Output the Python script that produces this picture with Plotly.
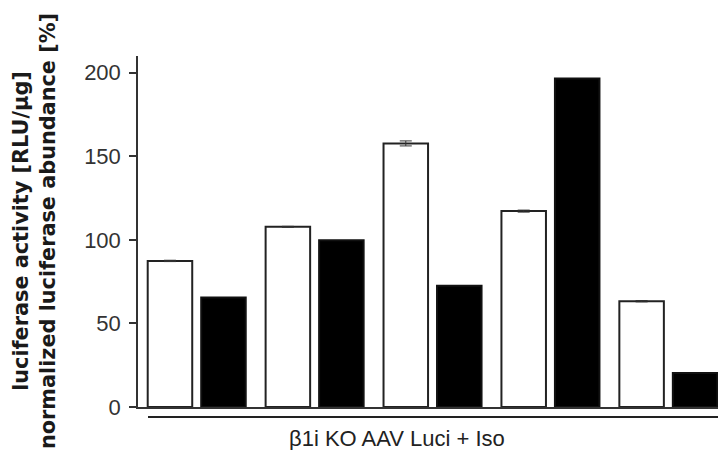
import plotly.graph_objects as go

groups = [0, 1, 2, 3, 4]
white_values = [87.4, 107.8, 157.7, 117.2, 63.3]
white_errors = [0.4, 0.3, 1.5, 0.6, 0.4]
black_values = [65.5, 99.8, 72.5, 196.6, 20.4]
y_ticks = [0, 50, 100, 150, 200]
y_title_lines = ["luciferase activity [RLU/µg]", "normalized luciferase abundance [%]"]
x_title = "β1i KO AAV Luci + Iso"

fig = go.Figure()
fig.add_trace(go.Bar(
    x=groups, y=white_values, name="white",
    marker=dict(color="white", line=dict(color="#222222", width=2)),
    error_y=dict(type="data", array=white_errors, visible=True,
                 color="#333333", thickness=1, width=6),
))
fig.add_trace(go.Bar(
    x=groups, y=black_values, name="black",
    marker=dict(color="black", line=dict(color="#111111", width=2)),
))

fig.update_layout(
    width=718, height=450,
    margin=dict(l=138, r=0, t=56, b=43),
    paper_bgcolor="white", plot_bgcolor="white",
    showlegend=False,
    barmode="group", bargap=0.0925, bargroupgap=0.168,
    font=dict(family="Liberation Sans, Arial", size=22, color="#333333"),
)
fig.update_xaxes(
    range=[-0.498, 4.421], showticklabels=False, ticks="",
    showline=True, linecolor="#333333", linewidth=1.5,
    showgrid=False, zeroline=False,
)
fig.update_yaxes(
    range=[0, 210], tickvals=y_ticks, ticktext=[str(v) for v in y_ticks],
    showline=True, linecolor="#333333", linewidth=1.5,
    ticks="outside", ticklen=7, tickwidth=1.5, tickcolor="#333333",
    showgrid=False, zeroline=False, ticklabelstandoff=4,
    tickfont=dict(family="Liberation Sans, Arial", size=22, color="#333333"),
)

# rotated two-line y title
fig.add_annotation(
    text="<br>".join(y_title_lines), textangle=-90,
    xref="paper", yref="paper", x=0, y=0.5, xanchor="center", yanchor="middle",
    xshift=-103.5, showarrow=False, align="center",
    font=dict(family="DejaVu Sans", size=20.8, color="#1a1a1a", weight="bold"),
)
# x title
fig.add_annotation(
    text=x_title, xref="paper", yref="paper", x=(397 - 138) / 580, y=0,
    xanchor="center", yanchor="middle", yshift=-31, showarrow=False,
    font=dict(family="Liberation Sans, Arial", size=22, color="#222222"),
)
# group bracket line
fig.add_shape(type="line", xref="paper", yref="paper",
              x0=(148 - 138) / 580, x1=1.0, y0=-10 / 351, y1=-10 / 351,
              line=dict(color="#222222", width=2))

fig.write_html("out.html", config={"displayModeBar": False},
               post_script="document.body.style.margin='0';document.body.style.overflow='hidden';")
